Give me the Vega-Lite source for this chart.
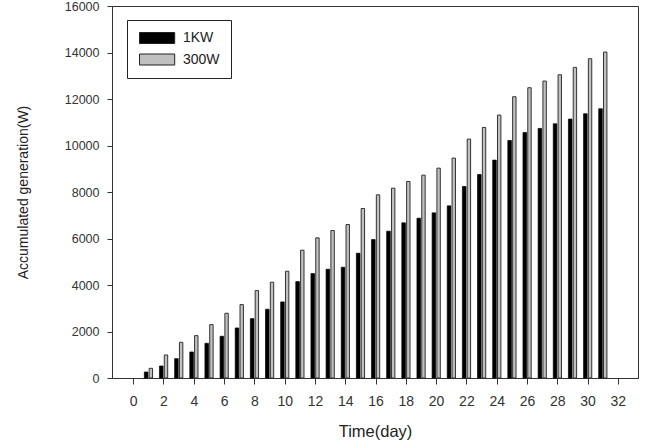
{
  "$schema": "https://vega.github.io/schema/vega-lite/v6.json",
  "width": 526,
  "height": 372,
  "autosize": {"type": "none"},
  "padding": {"left": 112, "top": 6, "right": 8, "bottom": 62},
  "config": {
    "view": {"stroke": "#333", "strokeWidth": 1},
    "font": "Liberation Sans",
    "axis": {
      "grid": false,
      "domainColor": "#333",
      "tickColor": "#333",
      "labelColor": "#333",
      "titleColor": "#222",
      "titleFontWeight": "normal"
    }
  },
  "data": {
    "values": [
      {"day": 1, "series": "1KW", "value": 258}, {"day": 1, "series": "300W", "value": 416},
      {"day": 2, "series": "1KW", "value": 517}, {"day": 2, "series": "300W", "value": 990},
      {"day": 3, "series": "1KW", "value": 832}, {"day": 3, "series": "300W", "value": 1535},
      {"day": 4, "series": "1KW", "value": 1119}, {"day": 4, "series": "300W", "value": 1822},
      {"day": 5, "series": "1KW", "value": 1492}, {"day": 5, "series": "300W", "value": 2296},
      {"day": 6, "series": "1KW", "value": 1794}, {"day": 6, "series": "300W", "value": 2784},
      {"day": 7, "series": "1KW", "value": 2152}, {"day": 7, "series": "300W", "value": 3157},
      {"day": 8, "series": "1KW", "value": 2554}, {"day": 8, "series": "300W", "value": 3760},
      {"day": 9, "series": "1KW", "value": 2956}, {"day": 9, "series": "300W", "value": 4118},
      {"day": 10, "series": "1KW", "value": 3272}, {"day": 10, "series": "300W", "value": 4592},
      {"day": 11, "series": "1KW", "value": 4147}, {"day": 11, "series": "300W", "value": 5496},
      {"day": 12, "series": "1KW", "value": 4492}, {"day": 12, "series": "300W", "value": 6027},
      {"day": 13, "series": "1KW", "value": 4678}, {"day": 13, "series": "300W", "value": 6343},
      {"day": 14, "series": "1KW", "value": 4764}, {"day": 14, "series": "300W", "value": 6601},
      {"day": 15, "series": "1KW", "value": 5367}, {"day": 15, "series": "300W", "value": 7290},
      {"day": 16, "series": "1KW", "value": 5955}, {"day": 16, "series": "300W", "value": 7878},
      {"day": 17, "series": "1KW", "value": 6314}, {"day": 17, "series": "300W", "value": 8165},
      {"day": 18, "series": "1KW", "value": 6673}, {"day": 18, "series": "300W", "value": 8452},
      {"day": 19, "series": "1KW", "value": 6874}, {"day": 19, "series": "300W", "value": 8725},
      {"day": 20, "series": "1KW", "value": 7103}, {"day": 20, "series": "300W", "value": 9026},
      {"day": 21, "series": "1KW", "value": 7405}, {"day": 21, "series": "300W", "value": 9457},
      {"day": 22, "series": "1KW", "value": 8237}, {"day": 22, "series": "300W", "value": 10275},
      {"day": 23, "series": "1KW", "value": 8754}, {"day": 23, "series": "300W", "value": 10777},
      {"day": 24, "series": "1KW", "value": 9371}, {"day": 24, "series": "300W", "value": 11308},
      {"day": 25, "series": "1KW", "value": 10217}, {"day": 25, "series": "300W", "value": 12097},
      {"day": 26, "series": "1KW", "value": 10562}, {"day": 26, "series": "300W", "value": 12485},
      {"day": 27, "series": "1KW", "value": 10734}, {"day": 27, "series": "300W", "value": 12772},
      {"day": 28, "series": "1KW", "value": 10935}, {"day": 28, "series": "300W", "value": 13044},
      {"day": 29, "series": "1KW", "value": 11136}, {"day": 29, "series": "300W", "value": 13360},
      {"day": 30, "series": "1KW", "value": 11365}, {"day": 30, "series": "300W", "value": 13733},
      {"day": 31, "series": "1KW", "value": 11580}, {"day": 31, "series": "300W", "value": 14020}
    ]
  },
  "encoding": {
    "x": {
      "field": "day",
      "type": "quantitative",
      "scale": {"domain": [-1.07, 33], "nice": false, "zero": false},
      "axis": {
        "values": [0, 2, 4, 6, 8, 10, 12, 14, 16, 18, 20, 22, 24, 26, 28, 30, 32],
        "title": "Time(day)",
        "titleFontSize": 16.5,
        "titlePadding": 15,
        "labelFontSize": 14,
        "tickSize": 6,
        "labelPadding": 10
      }
    },
    "y": {
      "field": "value",
      "type": "quantitative",
      "scale": {"domain": [0, 16000], "nice": false},
      "axis": {
        "values": [0, 2000, 4000, 6000, 8000, 10000, 12000, 14000, 16000],
        "format": "d",
        "title": "Accumulated generation(W)",
        "titleFontSize": 14,
        "titlePadding": 34,
        "labelFontSize": 12.5,
        "tickSize": 5,
        "labelPadding": 8
      }
    },
    "color": {
      "field": "series",
      "type": "nominal",
      "scale": {"domain": ["1KW", "300W"], "range": ["#000000", "#c0c0c0"]},
      "legend": {
        "title": null,
        "orient": "none",
        "legendX": 15,
        "legendY": 14,
        "direction": "vertical",
        "strokeColor": "#222",
        "padding": 11,
        "symbolType": "M-1,-1H5.4V1H-1Z",
        "symbolSize": 121,
        "symbolStrokeColor": "#222",
        "symbolStrokeWidth": 1,
        "symbolOpacity": 1,
        "labelFontSize": 14,
        "labelColor": "#222",
        "labelOffset": 31,
        "rowPadding": 5.5
      }
    }
  },
  "layer": [
    {
      "transform": [{"filter": "datum.series === '1KW'"}],
      "mark": {"type": "bar", "width": 3.6, "xOffset": -2.2, "stroke": "#000", "strokeWidth": 0.7}
    },
    {
      "transform": [{"filter": "datum.series === '300W'"}],
      "mark": {"type": "bar", "width": 3.4, "xOffset": 2.5, "stroke": "#333", "strokeWidth": 1}
    }
  ]
}
